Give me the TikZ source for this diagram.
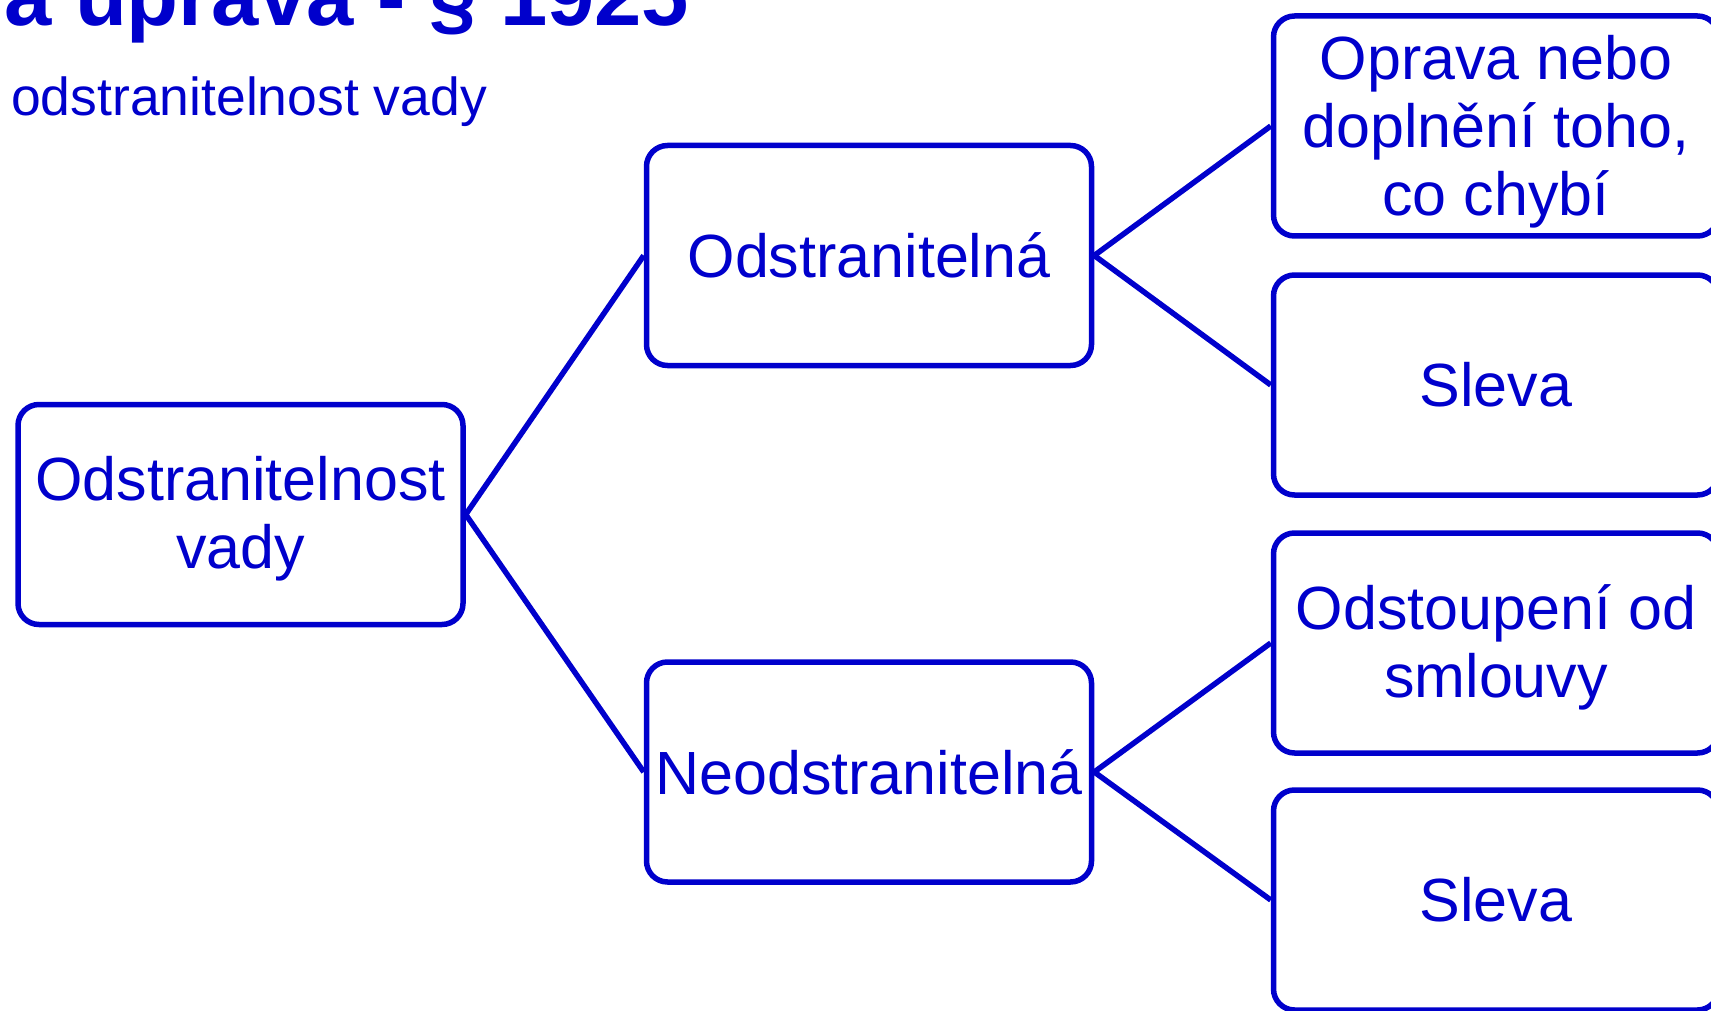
\documentclass[tikz,border=0pt]{standalone}
\usepackage{fontspec}
\setmainfont{Liberation Sans}
\definecolor{dblue}{RGB}{0,0,204}
\begin{document}
\begin{tikzpicture}[x=1pt,y=-1pt,
  box/.style={draw=dblue, line width=5.5pt, rounded corners=21pt, fill=white,
    text=dblue, align=center, inner sep=0pt, minimum width=445pt, minimum height=220pt,
    font=\fontsize{61}{68}\selectfont},
  lab/.style={text=dblue, align=center, inner sep=0pt, font=\fontsize{61}{68}\selectfont},
  conn/.style={draw=dblue, line width=5.5pt}]
\useasboundingbox (0,0) rectangle (1711,1011);
\clip (0,0) rectangle (1711,1011);
\node[anchor=base west, inner sep=0pt, text=dblue, font=\fontsize{85}{92}\selectfont\bfseries] (title) at (4,26) {a úprava - § 1925};
\node[anchor=base west, inner sep=0pt, text=dblue, font=\fontsize{53.5}{60}\selectfont] (sub) at (11,116) {odstranitelnost vady};
\node[box, label={[lab, yshift=-4pt]center:{Odstranitelnost\\vady}}] (A) at (240.5,514.5) {};
\node[box] (B) at (869,255.5) {Odstranitelná};
\node[box] (C) at (869,772) {Neodstranitelná};
\node[box, label={[lab, yshift=-6pt]center:{Oprava nebo\\doplnění toho,\\co chybí}}] (R1) at (1496,126) {};
\node[box] (R2) at (1496,385) {Sleva};
\node[box, label={[lab, yshift=-4pt]center:{Odstoupení od\\smlouvy}}] (R3) at (1496,643) {};
\node[box] (R4) at (1496,900) {Sleva};
\draw[conn] (A.east) -- (B.west);
\draw[conn] (A.east) -- (C.west);
\draw[conn] (B.east) -- (R1.west);
\draw[conn] (B.east) -- (R2.west);
\draw[conn] (C.east) -- (R3.west);
\draw[conn] (C.east) -- (R4.west);
\end{tikzpicture}
\end{document}
